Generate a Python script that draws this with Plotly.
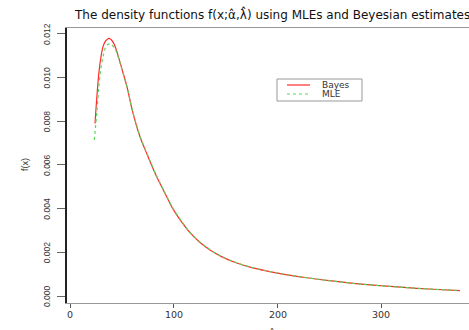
import plotly.graph_objects as go

# Bayes estimate density
bayes_x = [24.1, 26, 28, 30, 32, 34, 36, 38, 40, 43, 46, 50, 55, 60, 67, 75, 83.5, 90, 96.3,
           100, 108, 115.6, 125, 134.9, 147, 160.6, 176, 192.7, 208, 224.8, 250, 275, 300, 325, 350, 375.7]
bayes_y = [0.0079, 0.0092, 0.0103, 0.0110, 0.01145, 0.01166, 0.01176, 0.01179, 0.01172, 0.01148,
           0.01105, 0.01040, 0.00955, 0.00850, 0.00735, 0.00640, 0.00546, 0.00484, 0.00424,
           0.00392, 0.00336, 0.00290, 0.00246, 0.00211, 0.00178, 0.00151, 0.00129, 0.00112,
           0.00098, 0.00086, 0.00070, 0.00057, 0.00047, 0.00038, 0.00031, 0.00025]

# MLE density
mle_x = [23.4, 26, 28, 30, 32, 34, 36, 38, 40, 43, 46, 50, 55, 60, 67, 75, 83.5, 90, 96.3,
         100, 108, 115.6, 125, 134.9, 147, 160.6, 176, 192.7, 208, 224.8, 250, 275, 300, 325, 350, 375.7]
mle_y = [0.00714, 0.0085, 0.0097, 0.0105, 0.0110, 0.01135, 0.01150, 0.01154, 0.01150, 0.01135,
         0.01100, 0.01038, 0.00956, 0.00853, 0.00738, 0.00643, 0.00549, 0.00487, 0.00427,
         0.00395, 0.00339, 0.00292, 0.00248, 0.00212, 0.00179, 0.00152, 0.00130, 0.00112,
         0.00098, 0.00086, 0.00070, 0.00057, 0.00047, 0.00038, 0.00031, 0.00025]

series_names = ["Bayes", "MLE"]
series_colors = ["#ff2a2a", "#5ad65a"]
series_dash = ["solid", "dot"]

x_ticks = [0, 100, 200, 300]
y_ticks = [0.000, 0.002, 0.004, 0.006, 0.008, 0.010, 0.012]
y_tick_labels = ["0.000", "0.002", "0.004", "0.006", "0.008", "0.010", "0.012"]

title_text = "The density functions f(x;\u03b1\u0302,\u03bb\u0302) using MLEs and Beyesian estimates"

W, H = 469, 330
ML, MR, MT, MB = 67, 0, 28, 27
PW, PH = W - ML - MR, H - MT - MB


def px_x(px):
    return (px - ML) / PW


def px_y(py):
    return (H - MB - py) / PH


wide = "DejaVu Sans, Verdana, sans-serif"
narrow = "Liberation Sans Narrow, Arial Narrow, Liberation Sans, sans-serif"

fig = go.Figure()
for xs, ys, name, col, dash in zip([bayes_x, mle_x], [bayes_y, mle_y], series_names,
                                   series_colors, series_dash):
    fig.add_trace(go.Scatter(x=xs, y=ys, mode="lines", name=name, showlegend=False,
                             line=dict(color=col, width=1.2, dash=dash, shape="spline")))

annotations = [
    dict(text=title_text, xref="paper", yref="paper", x=px_x(72), y=px_y(14),
         xanchor="left", yanchor="middle", showarrow=False,
         font=dict(size=12, color="#111", family=wide)),
    dict(text="x\u0302", xref="paper", yref="paper", x=px_x(272), y=px_y(333),
         xanchor="center", yanchor="middle", showarrow=False,
         font=dict(size=10, color="#333", family=wide)),
    dict(text="f(x)", xref="paper", yref="paper", x=px_x(25), y=px_y(165),
         xanchor="center", yanchor="middle", showarrow=False, textangle=-90,
         font=dict(size=9, color="#333", family=narrow)),
]
for v, lab in zip(y_ticks, y_tick_labels):
    annotations.append(dict(text=lab, xref="paper", yref="y", x=px_x(47), y=v,
                            xanchor="center", yanchor="middle", showarrow=False,
                            textangle=-90, font=dict(size=8.5, color="#333", family=narrow)))
for v in x_ticks:
    annotations.append(dict(text=str(v), xref="x", yref="paper", x=v, y=px_y(314),
                            xanchor="center", yanchor="middle", showarrow=False,
                            font=dict(size=9.5, color="#333", family=wide)))

# manual legend box
shapes = [dict(type="rect", xref="paper", yref="paper", x0=px_x(277), x1=px_x(362),
               y0=px_y(101), y1=px_y(79), line=dict(color="#999", width=1),
               fillcolor="white", layer="above")]
for i, (name, col, dash) in enumerate(zip(series_names, series_colors, series_dash)):
    yy = px_y(85 + 9 * i)
    shapes.append(dict(type="line", xref="paper", yref="paper", x0=px_x(287), x1=px_x(310),
                       y0=yy, y1=yy, line=dict(color=col, width=1.2, dash=dash), layer="above"))
    annotations.append(dict(text=name, xref="paper", yref="paper", x=px_x(320), y=yy,
                            xanchor="left", yanchor="middle", showarrow=False,
                            font=dict(size=9, color="#333", family=wide)))

fig.update_layout(
    width=W, height=H,
    margin=dict(l=ML, r=MR, t=MT, b=MB),
    paper_bgcolor="white", plot_bgcolor="white",
    font=dict(family=wide, size=9, color="#333"),
    showlegend=False,
    xaxis=dict(range=[-2.9, 384.4], tickvals=x_ticks, showticklabels=False,
               showgrid=False, zeroline=False, showline=True, mirror=True,
               linecolor="#999", linewidth=1, ticks="outside", ticklen=4,
               tickcolor="#555"),
    yaxis=dict(range=[-0.00032, 0.01227], tickvals=y_ticks, showticklabels=False,
               showgrid=False, zeroline=False, showline=True,
               linecolor="#222", linewidth=1.5, ticks="outside", ticklen=8,
               tickcolor="#666"),
    annotations=annotations,
    shapes=shapes,
)

fig.write_html("out.html")
